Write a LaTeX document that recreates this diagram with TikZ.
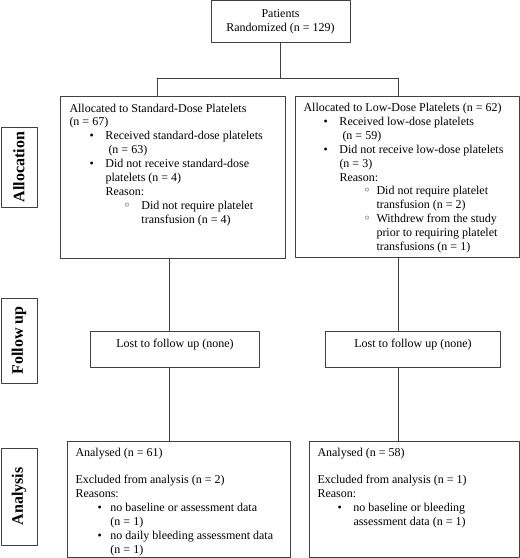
\documentclass[tikz,border=0pt]{standalone}
\usepackage{fontspec}
\setmainfont{Liberation Serif}
\newfontfamily\symfont{DejaVu Sans}
\newcommand{\bl}[2]{\makebox[#2][l]{\hspace*{#1}\textbullet}}
\newcommand{\cl}[2]{\makebox[#2][l]{\hspace*{#1}{\symfont ◦}}}
\newcommand{\stagetext}[5]{\parbox[t][#2][t]{#1}{\vspace*{#3}\leftskip=#4\strut #5}}
\begin{document}
\begin{tikzpicture}[x=1pt, y=-1pt, font=\fontsize{12pt}{13.9pt}\selectfont, line join=round, line cap=round,
	stage/.style={draw=black!75, line width=1pt, inner sep=0pt, anchor=north west},
	phase/.style={draw=black!75, line width=1pt, rotate=90, inner sep=0pt, font=\fontsize{16pt}{18pt}\selectfont\bfseries}]
	\useasboundingbox (0,0) rectangle (520,558);
	% enrolment
	\node[stage, anchor=north, minimum width=139pt, minimum height=42pt, align=center] (rand) at (280.5,0) {Patients\\Randomized (n = 129)};
	% allocation
	\node[stage] (allocL) at (60,96) {\stagetext{225pt}{162pt}{5.8pt}{9pt}{Allocated to Standard-Dose Platelets\\
		(n = 67)\\
		\bl{20pt}{36pt}Received standard-dose platelets\\
		\hspace*{39pt}(n = 63)\\
		\bl{20pt}{36pt}Did not receive standard-dose\\
		\hspace*{36pt}platelets (n = 4)\\
		\hspace*{36pt}Reason:\\
		\cl{54pt}{72pt}Did not require platelet\\
		\hspace*{72pt}transfusion (n = 4)}};
	\node[stage] (allocR) at (295,96) {\stagetext{224pt}{161pt}{5.3pt}{8pt}{Allocated to Low-Dose Platelets (n = 62)\\
		\bl{20pt}{36pt}Received low-dose platelets\\
		\hspace*{39pt}(n = 59)\\
		\bl{20pt}{36pt}Did not receive low-dose platelets\\
		\hspace*{36pt}(n = 3)\\
		\hspace*{36pt}Reason:\\
		\cl{60pt}{73pt}Did not require platelet\\
		\hspace*{73pt}transfusion (n = 2)\\
		\cl{60pt}{73pt}Withdrew from the study\\
		\hspace*{73pt}prior to requiring platelet\\
		\hspace*{73pt}transfusions (n = 1)}};
	% follow up
	\node[stage] (lostL) at (90,331) {\parbox[t][36pt][t]{169pt}{\vspace*{6.3pt}\centering\strut Lost to follow up (none)}};
	\node[stage] (lostR) at (325,331) {\parbox[t][36pt][t]{175pt}{\vspace*{6.3pt}\centering\strut Lost to follow up (none)}};
	% analysis
	\node[stage] (anaL) at (67,441) {\stagetext{223pt}{116pt}{4.8pt}{8pt}{Analysed (n = 61)\\[13.9pt]
		Excluded from analysis (n = 2)\\
		Reasons:\\
		\bl{22pt}{35pt}no baseline or assessment data\\
		\hspace*{35pt}(n = 1)\\
		\bl{22pt}{35pt}no daily bleeding assessment data\\
		\hspace*{35pt}(n = 1)}};
	\node[stage] (anaR) at (309,441) {\stagetext{210pt}{116pt}{4.8pt}{8pt}{Analysed (n = 58)\\[13.9pt]
		Excluded from analysis (n = 1)\\
		Reason:\\
		\bl{20pt}{36pt}no baseline or bleeding\\
		\hspace*{36pt}assessment data (n = 1)}};
	% phase labels
	\node[phase, minimum width=80pt, minimum height=36pt] (labAlloc) at (19,167) {Allocation};
	\node[phase, minimum width=85pt, minimum height=36pt] (labFollow) at (19,340.5) {Follow up};
	\node[phase, minimum width=97pt, minimum height=36pt] (labAna) at (19,496.5) {Analysis};
	% connectors
	\coordinate (jL) at (157,78);
	\coordinate (jR) at (398,78);
	\coordinate (mL) at (169,0);
	\coordinate (mR) at (398,0);
	\begin{scope}[draw=black!75, line width=1pt]
		\draw (rand.south) -- (rand.south |- jL);
		\draw (jL) -- (jR);
		\draw (jL) -- (jL |- allocL.north);
		\draw (jR) -- (jR |- allocR.north);
		\draw (allocL.south -| mL) -- (lostL.north -| mL);
		\draw (allocR.south -| mR) -- (lostR.north -| mR);
		\draw (lostL.south -| mL) -- (anaL.north -| mL);
		\draw (lostR.south -| mR) -- (anaR.north -| mR);
	\end{scope}
\end{tikzpicture}
\end{document}
